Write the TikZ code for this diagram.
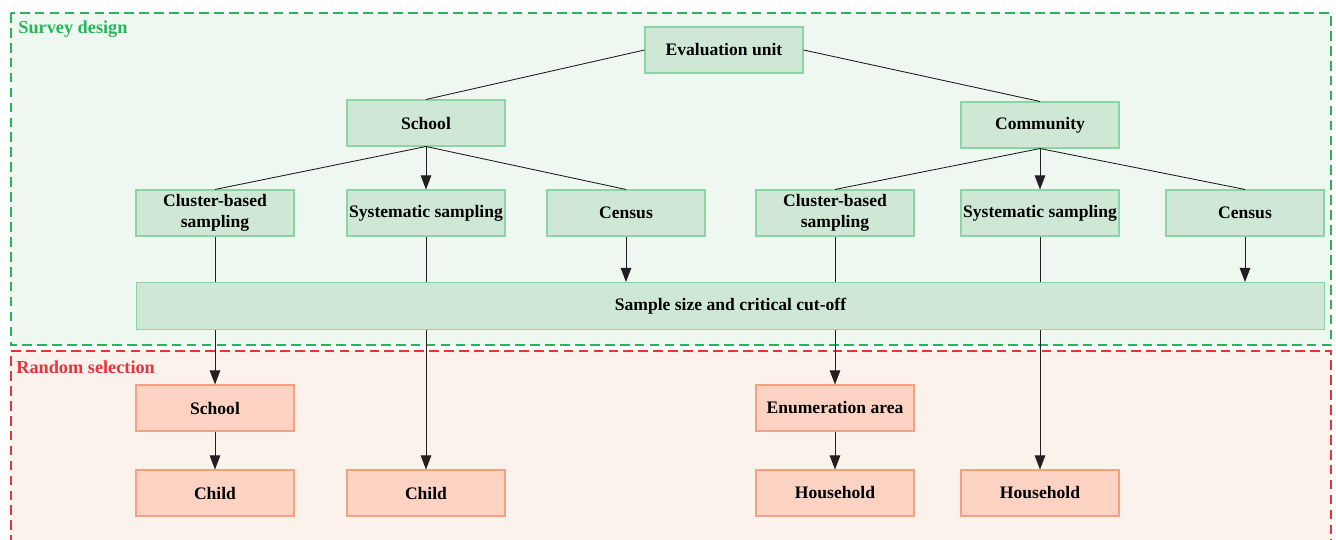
\documentclass[tikz,border=0pt]{standalone}
\usepackage{fontspec}
\setmainfont{Liberation Serif}
\usetikzlibrary{arrows.meta}
\definecolor{designfill}{RGB}{238,248,240}
\definecolor{designline}{RGB}{40,180,90}
\definecolor{selectfill}{RGB}{252,242,236}
\definecolor{selectline}{RGB}{232,50,60}
\definecolor{greenbox}{RGB}{207,232,214}
\definecolor{greenedge}{RGB}{140,212,164}
\definecolor{redbox}{RGB}{252,211,195}
\definecolor{rededge}{RGB}{245,160,126}
\definecolor{linkgray}{RGB}{35,31,32}

\tikzset{
  unit/.style={draw=greenedge, fill=greenbox, line width=0.6pt, minimum width=3.16cm,
    minimum height=0.92cm, align=center, font=\bfseries, inner sep=1pt},
  pick/.style={unit, draw=rededge, fill=redbox},
  link/.style={draw=linkgray, line width=0.5pt},
  arr/.style={link, -{Triangle[length=8pt,width=6pt]}},
  region/.style={dashed, dash pattern=on 5.5pt off 3pt, line width=0.6pt},
  stage/.style={anchor=west, font=\fontsize{10.4}{12}\selectfont\bfseries, inner sep=0pt}
}

\begin{document}
\begin{tikzpicture}[x=0.02cm, y=-0.02cm]
\useasboundingbox (0,0) rectangle (1336,540);

% the two stages
\fill[designfill] (11,13) rectangle (1331,345);
\draw[region, draw=designline] (11,13) rectangle (1331,345);
\fill[selectfill] (11,351) rectangle (1331,545);
\draw[region, draw=selectline] (11,545) -- (11,351) -- (1331,351) -- (1331,545);
\node[stage, text=designline] (design) at (18,29) {Survey design};
\node[stage, text=selectline] (select) at (16,367) {Random selection};

% survey design
\node[unit] (eval) at (724,50) {Evaluation unit};
\node[unit] (school) at (426,123) {School};
\node[unit] (community) at (1040,125) {Community};

\node[unit] (clA) at (215,213) {Cluster-based\\sampling};
\node[unit] (sysA) at (426,213) {Systematic sampling};
\node[unit] (cenA) at (626,213) {Census};
\node[unit] (clB) at (835,213) {Cluster-based\\sampling};
\node[unit] (sysB) at (1040,213) {Systematic sampling};
\node[unit] (cenB) at (1245,213) {Census};

\node[unit, minimum width=23.78cm, minimum height=0.94cm] (sample) at (730.5,306) {Sample size and critical cut-off};

% random selection
\node[pick] (schoolR) at (215,408) {School};
\node[pick] (childA) at (215,493) {Child};
\node[pick] (childB) at (426,493) {Child};
\node[pick] (enum) at (835,408) {Enumeration area};
\node[pick] (houseA) at (835,493) {Household};
\node[pick] (houseB) at (1040,493) {Household};

% links
\draw[link] (eval.west) -- (school.north);
\draw[link] (eval.east) -- (community.north);

\draw[link] (school.south) -- (clA.north);
\draw[arr] (school.south) -- (sysA.north);
\draw[link] (school.south) -- (cenA.north);
\draw[link] (community.south) -- (clB.north);
\draw[arr] (community.south) -- (sysB.north);
\draw[link] (community.south) -- (cenB.north);

\draw[link] (clA.south) -- (clA.south |- sample.north);
\draw[link] (sysA.south) -- (sysA.south |- sample.north);
\draw[arr] (cenA.south) -- (cenA.south |- sample.north);
\draw[link] (clB.south) -- (clB.south |- sample.north);
\draw[link] (sysB.south) -- (sysB.south |- sample.north);
\draw[arr] (cenB.south) -- (cenB.south |- sample.north);

\draw[arr] (sample.south -| schoolR.north) -- (schoolR.north);
\draw[arr] (schoolR.south) -- (childA.north);
\draw[arr] (sample.south -| childB.north) -- (childB.north);
\draw[arr] (sample.south -| enum.north) -- (enum.north);
\draw[arr] (enum.south) -- (houseA.north);
\draw[arr] (sample.south -| houseB.north) -- (houseB.north);
\end{tikzpicture}
\end{document}
